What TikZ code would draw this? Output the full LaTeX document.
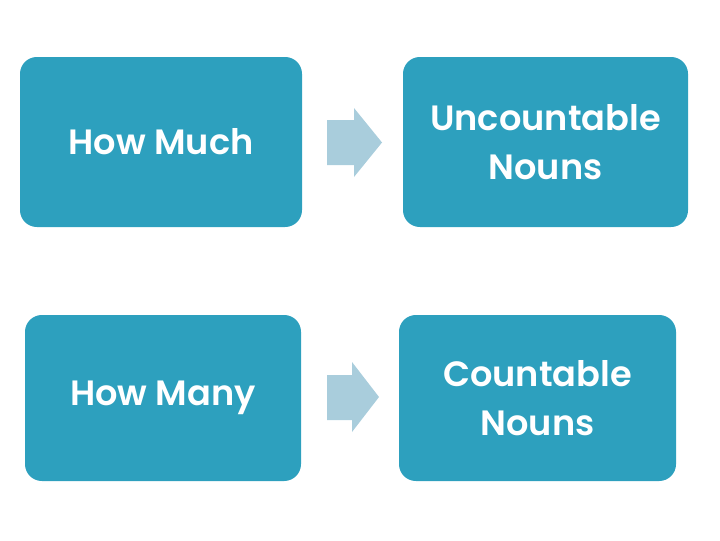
\documentclass[tikz,border=0pt]{standalone}
\usepackage{fontspec}
\setmainfont{Poppins}[UprightFont=* SemiBold, BoldFont=* Bold]
\usetikzlibrary{positioning}
\definecolor{boxblue}{HTML}{2DA0BE}
\definecolor{arrowblue}{HTML}{A9CDDC}

\begin{document}
\begin{tikzpicture}[x=0.025cm, y=-0.025cm,
  wordbox/.style={draw=none, fill=boxblue, rounded corners=12pt, text=white,
    font=\fontsize{25}{35}\selectfont, align=center, inner sep=0pt},
  arrowfill/.style={fill=arrowblue}]

% page
\useasboundingbox (0,0) rectangle (720,540);

% Boxes
\node[wordbox, minimum width=282*0.025cm, minimum height=170*0.025cm] (much) at (161,142) {How Much};
\node[wordbox, minimum width=285*0.025cm, minimum height=170*0.025cm] (uncount) at (545.5,142) {Uncountable\\Nouns};
\node[wordbox, minimum width=276*0.025cm, minimum height=166*0.025cm] (many) at (163,398) {How Many};
\node[wordbox, minimum width=277*0.025cm, minimum height=166*0.025cm] (count) at (537.5,398) {Countable\\Nouns};

% Arrows
\fill[arrowfill] (327,120) -- (354,120) -- (354,108) -- (382,142.5) -- (354,177) -- (354,165) -- (327,165) -- cycle;
\fill[arrowfill] (327,375) -- (352,375) -- (352,362) -- (379,397) -- (352,432) -- (352,420) -- (327,420) -- cycle;

\end{tikzpicture}
\end{document}
